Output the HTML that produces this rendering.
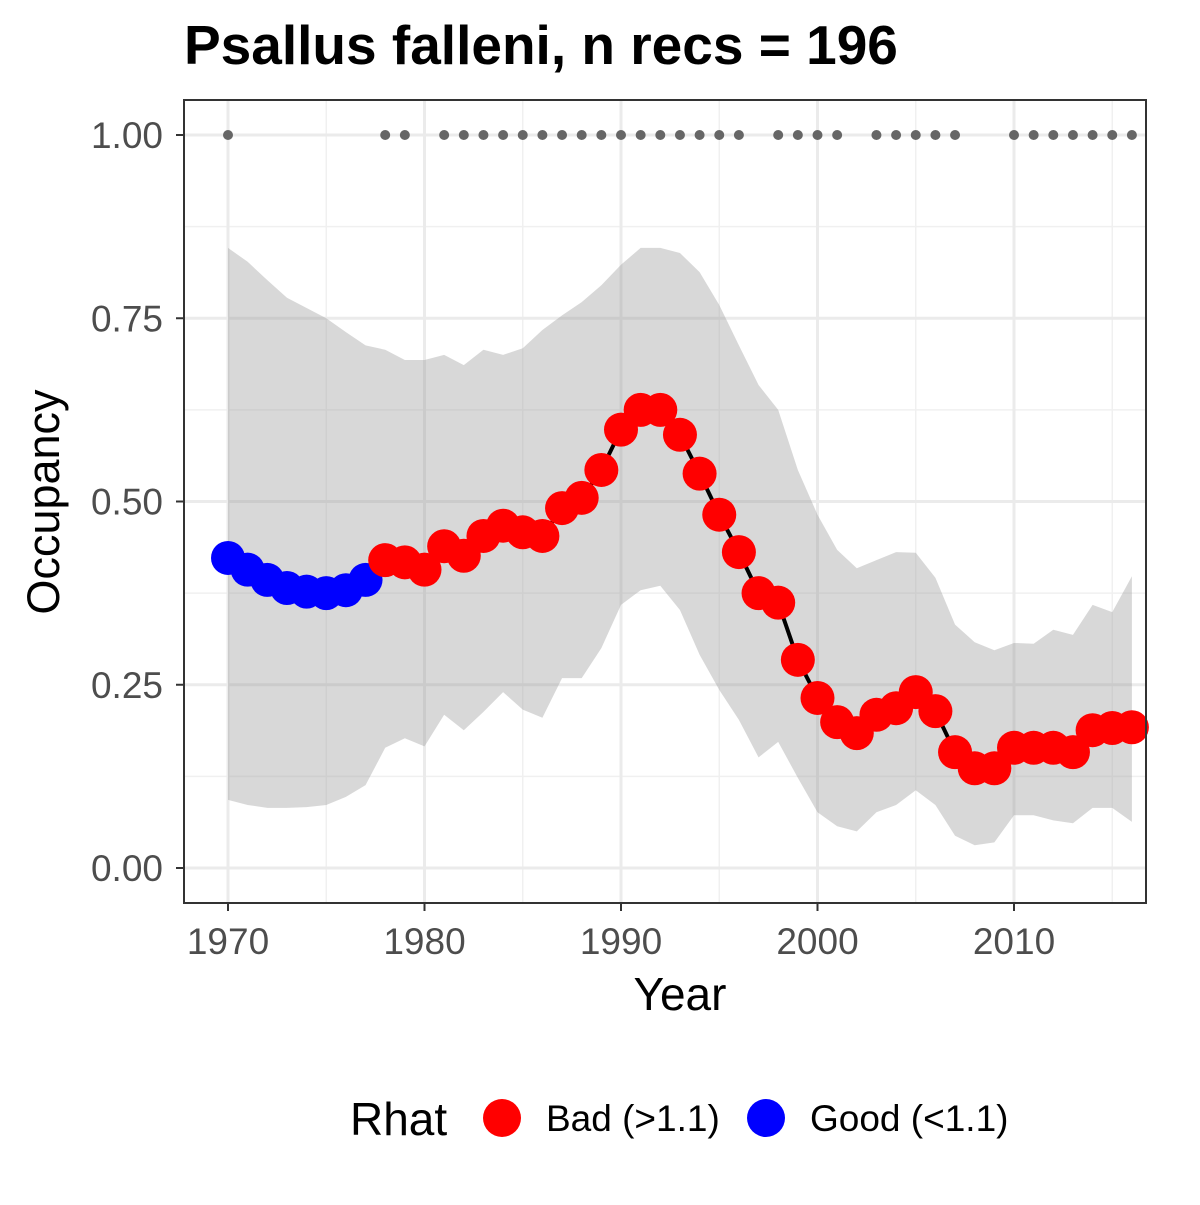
<!DOCTYPE html>
<html><head><meta charset="utf-8"><style>
body{margin:0;background:#fff;font-family:"Liberation Sans",Arial,sans-serif}
svg text{font-family:"Liberation Sans",Arial,sans-serif}
</style></head><body>
<svg id="chart" width="1200" height="1200" xmlns="http://www.w3.org/2000/svg">
<rect width="1200" height="1200" fill="#fff"/>
<text x="184" y="64" font-size="55" font-weight="bold">Psallus falleni, n recs = 196</text>
<g id="plot"></g>
</svg>
<script>
const years=[];for(let y=1970;y<=2016;y++)years.push(y);
const mean=[0.423,0.407,0.393,0.382,0.377,0.375,0.379,0.393,0.420,0.417,0.407,0.439,0.426,0.453,0.467,0.458,0.453,0.491,0.505,0.543,0.598,0.625,0.625,0.591,0.538,0.482,0.431,0.375,0.362,0.284,0.232,0.199,0.184,0.209,0.218,0.240,0.214,0.158,0.136,0.136,0.164,0.164,0.164,0.158,0.188,0.191,0.192];
const upper=[0.846,0.827,0.802,0.778,0.764,0.750,0.731,0.713,0.707,0.693,0.693,0.700,0.686,0.707,0.700,0.709,0.734,0.754,0.772,0.795,0.823,0.846,0.846,0.839,0.813,0.768,0.713,0.659,0.625,0.543,0.482,0.434,0.409,0.420,0.431,0.430,0.396,0.332,0.308,0.297,0.307,0.306,0.325,0.318,0.359,0.349,0.398];
const lower=[0.093,0.086,0.082,0.082,0.083,0.086,0.097,0.113,0.164,0.177,0.166,0.209,0.188,0.213,0.240,0.216,0.205,0.259,0.259,0.300,0.359,0.379,0.385,0.352,0.291,0.243,0.202,0.151,0.172,0.123,0.076,0.057,0.050,0.076,0.086,0.106,0.086,0.044,0.031,0.035,0.072,0.072,0.065,0.061,0.082,0.082,0.063];
const rhatGood=[1,1,1,1,1,1,1,1,0,0,0,0,0,0,0,0,0,0,0,0,0,0,0,0,0,0,0,0,0,0,0,0,0,0,0,0,0,0,0,0,0,0,0,0,0,0,0];
const recYears=[1970,1978,1979,1981,1982,1983,1984,1985,1986,1987,1988,1989,1990,1991,1992,1993,1994,1995,1996,1998,1999,2000,2001,2003,2004,2005,2006,2007,2010,2011,2012,2013,2014,2015,2016];
const xTicks=[1970,1980,1990,2000,2010];
const yTicks=[0,0.25,0.5,0.75,1.0];
const yTickLabels=["0.00","0.25","0.50","0.75","1.00"];

const X=v=>228+(v-1970)*(1014-228)/40;
const Y=v=>868-v*733;
const NS="http://www.w3.org/2000/svg";
const g=document.getElementById('plot');
function mk(t,a,p){const e=document.createElementNS(NS,t);for(const k in a)e.setAttribute(k,a[k]);(p||g).appendChild(e);return e;}
mk('rect',{x:184,y:100,width:962,height:803,fill:'#fff'});
for(let v=0.125;v<1;v+=0.25){const l=mk('line',{x1:184,x2:1146,y1:Y(v),y2:Y(v),stroke:'#f0f0f0','stroke-width':1.5});}
for(let v=1975;v<=2015;v+=10){const l=mk('line',{x1:X(v),x2:X(v),y1:100,y2:903,stroke:'#f0f0f0','stroke-width':1.5});}
yTicks.forEach((v,i)=>{const l=mk('line',{x1:184,x2:1146,y1:Y(v),y2:Y(v),stroke:'#ebebeb','stroke-width':3});
 mk('line',{x1:176,x2:184,y1:Y(v),y2:Y(v),stroke:'#333','stroke-width':2});
 const tx=mk('text',{x:163,y:Y(v)+13,'text-anchor':'end','font-size':37,fill:'#4d4d4d'});tx.textContent=yTickLabels[i];
 });
xTicks.forEach(v=>{const l=mk('line',{x1:X(v),x2:X(v),y1:100,y2:903,stroke:'#ebebeb','stroke-width':3});
 mk('line',{x1:X(v),x2:X(v),y1:903,y2:911,stroke:'#333','stroke-width':2});
 const tx=mk('text',{x:X(v),y:954,'text-anchor':'middle','font-size':37,fill:'#4d4d4d'});tx.textContent=v;
 });
let d='';years.forEach((y,i)=>d+=(i?'L':'M')+X(y)+','+Y(upper[i]));
for(let i=years.length-1;i>=0;i--)d+='L'+X(years[i])+','+Y(lower[i]);
const band=mk('path',{d:d+'Z',fill:'#999','fill-opacity':0.38});

let ld='';years.forEach((y,i)=>ld+=(i?'L':'M')+X(y)+','+Y(mean[i]));
const line=mk('path',{d:ld,fill:'none',stroke:'#000','stroke-width':4});

years.forEach((y,i)=>{const c=mk('circle',{cx:X(y),cy:Y(mean[i]),r:17,fill:rhatGood[i]?'#0000ff':'#ff0000'});
 });
recYears.forEach(y=>{const c=mk('circle',{cx:X(y),cy:Y(1),r:5,fill:'#666'});
 });
const fr=mk('rect',{x:184,y:100,width:962,height:803,fill:'none',stroke:'#333','stroke-width':2});

let t=mk('text',{x:680,y:1010,'text-anchor':'middle','font-size':46});t.textContent='Year';

t=mk('text',{x:0,y:0,'text-anchor':'middle','font-size':45,transform:'translate(59,502) rotate(-90)'});t.textContent='Occupancy';

t=mk('text',{x:350,y:1135,'font-size':46});t.textContent='Rhat';
let c=mk('circle',{cx:502,cy:1118,r:19,fill:'#ff0000'});
t=mk('text',{x:546,y:1131,'font-size':37});t.textContent='Bad (>1.1)';
c=mk('circle',{cx:766,cy:1118,r:19,fill:'#0000ff'});
t=mk('text',{x:810,y:1131,'font-size':37});t.textContent='Good (<1.1)';
</script>
</body></html>
